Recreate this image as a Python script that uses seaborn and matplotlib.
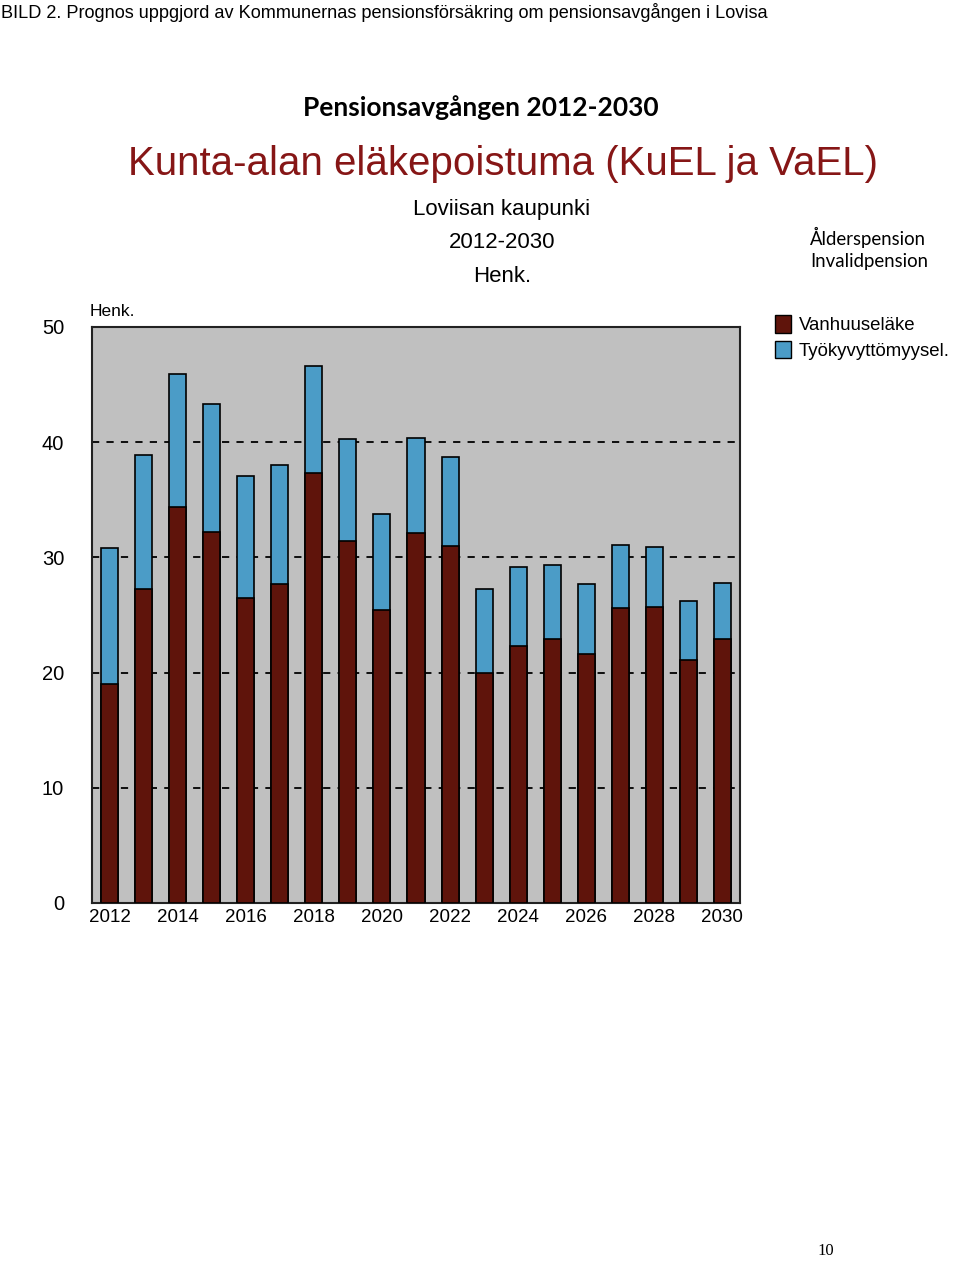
import matplotlib
matplotlib.use("Agg")
import matplotlib.pyplot as plt
import matplotlib.patches as mpatches
import seaborn as sns
import pandas as pd

# --- Dados ---
anos = [str(a) for a in range(2012, 2031)]
vanhuuselake = [19.0, 27.3, 34.4, 32.2, 26.5, 27.7, 37.3, 31.4, 25.4, 32.1,
                31.0, 20.0, 22.3, 22.9, 21.6, 25.6, 25.7, 21.1, 22.9]
tyokyvyttomyys = [11.8, 11.6, 11.5, 11.1, 10.6, 10.3, 9.3, 8.9, 8.4, 8.3,
                  7.7, 7.3, 6.9, 6.4, 6.1, 5.5, 5.2, 5.1, 4.9]
yticks = [0, 10, 20, 30, 40, 50]

df = pd.DataFrame({"Ano": anos, "Vanhuuselake": vanhuuselake,
                   "Tyokyvyttomyys": tyokyvyttomyys})
df["Total"] = df["Vanhuuselake"] + df["Tyokyvyttomyys"]

cor_vermelho = "#5f140b"
cor_azul = "#4b9cc7"
fonte = "Liberation Sans"

W, H = 960, 1261
fig = plt.figure(figsize=(W / 100, H / 100), dpi=100)

def px(x, y):
    return x / W, 1 - y / H

# Cabeçalho da página
fig.text(*px(1, 12), "BILD 2. Prognos uppgjord av Kommunernas pensionsförsäkring om pensionsavgången i Lovisa",
         fontsize=13.1, family=fonte, va="center", ha="left")
fig.text(*px(481, 108), "Pensionsavgången 2012-2030", fontsize=19, family="Lato",
         fontweight="bold", va="center", ha="center")

# Títulos do gráfico (imagem original)
fig.text(*px(503, 164), "Kunta-alan eläkepoistuma (KuEL ja VaEL)", fontsize=29,
         family=fonte, color="#861616", va="center", ha="center")
for yy, txt in [(209, "Loviisan kaupunki"), (242, "2012-2030"), (277, "Henk.")]:
    fig.text(*px(502, yy), txt, fontsize=16, family=fonte, va="center", ha="center")
fig.text(*px(810, 237), "Ålderspension", fontsize=13.4, family="Lato", va="center", ha="left")
fig.text(*px(810, 262), "Invalidpension", fontsize=13.4, family="Lato", va="center", ha="left")

# --- Eixo principal ---
ax = fig.add_axes([92 / W, 1 - 903 / H, 648 / W, 576 / H])
ax.set_facecolor("#c0c0c0")

sns.barplot(data=df, x="Ano", y="Total", color=cor_azul, width=0.5,
            edgecolor="black", linewidth=1.2, saturation=1, ax=ax, zorder=2)
sns.barplot(data=df, x="Ano", y="Vanhuuselake", color=cor_vermelho, width=0.5,
            edgecolor="black", linewidth=1.2, saturation=1, ax=ax, zorder=3)

ax.set_ylim(0, 50)
ax.set_xlim(-0.52, len(anos) - 0.48)
ax.set_yticks(yticks)
ax.set_yticklabels([str(t) for t in yticks], family=fonte, fontsize=14.5)
ax.set_xticks(range(0, len(anos), 2))
ax.set_xticklabels(anos[::2], family=fonte, fontsize=13.5)
ax.tick_params(axis="y", length=0, pad=20)
ax.tick_params(axis="x", length=0, pad=4)
ax.set_xlabel("")
ax.set_ylabel("")
for t in [10, 20, 30, 40]:
    ax.axhline(t, color="black", linestyle=(0, (4, 4)), linewidth=1.3, zorder=1)
for s in ax.spines.values():
    s.set_color("#222222")
    s.set_linewidth(1.5)

fig.text(*px(90, 312), "Henk.", fontsize=12.5, family=fonte, va="center", ha="left")

# Legenda
handles = [mpatches.Patch(facecolor=cor_vermelho, edgecolor="black", label="Vanhuuseläke"),
           mpatches.Patch(facecolor=cor_azul, edgecolor="black", label="Työkyvyttömyysel.")]
fig.legend(handles=handles, loc="upper left", bbox_to_anchor=(758 / W, 1 - 298 / H),
           frameon=False, prop={"family": fonte, "size": 13.4}, handlelength=0.85,
           handleheight=1.1, handletextpad=0.45, labelspacing=0.35)

fig.text(*px(826, 1251), "10", fontsize=12, family="Liberation Serif", va="center", ha="center")

fig.savefig("out.png", dpi=100)
